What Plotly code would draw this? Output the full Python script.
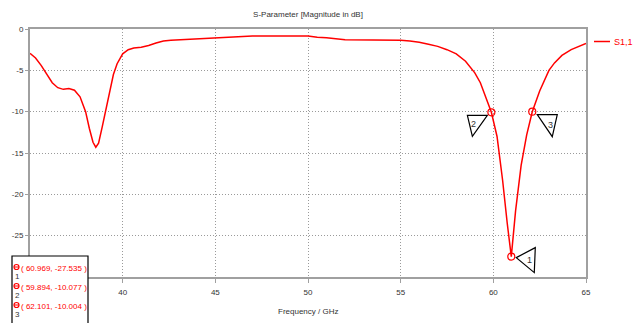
import plotly.graph_objects as go

# ---------------- data ----------------
freq = [35.0, 35.3, 35.6, 35.9, 36.2, 36.5, 36.8, 37.1, 37.4, 37.7, 38.0, 38.2, 38.4, 38.55,
        38.7, 38.9, 39.1, 39.3, 39.5, 39.7, 40.0, 40.3, 40.6, 41.0, 41.4, 41.8, 42.2, 42.6,
        43.0, 43.5, 44.0, 44.5, 45.0, 46.0, 47.0, 48.0, 49.0, 50.0, 50.5, 51.0, 52.0, 53.0,
        54.0, 55.0, 55.5, 56.0, 56.5, 57.0, 57.5, 58.0, 58.5, 59.0, 59.3, 59.6, 59.894, 60.2,
        60.5, 60.75, 60.969, 61.2, 61.5, 61.8, 62.101, 62.5, 63.0, 63.3, 63.7, 64.2, 64.6, 65.0]
s11 = [-2.95, -3.5, -4.4, -5.5, -6.5, -7.1, -7.3, -7.2, -7.4, -8.2, -10.0, -12.0, -13.7, -14.3,
       -13.8, -11.8, -9.6, -7.3, -5.5, -4.2, -3.0, -2.5, -2.3, -2.2, -2.0, -1.7, -1.45, -1.35,
       -1.3, -1.3, -1.2, -1.1, -1.05, -0.95, -0.85, -0.85, -0.85, -0.85, -1.0, -1.05, -1.3, -1.3,
       -1.3, -1.35, -1.45, -1.6, -1.85, -2.1, -2.5, -3.0, -3.9, -5.3, -6.5, -8.2, -10.077, -13.0,
       -18.3, -23.5, -27.535, -22.0, -16.5, -12.8, -10.004, -7.5, -5.0, -4.1, -3.2, -2.5, -2.1, -1.75]

marker_ids = ["1", "2", "3"]
marker_f = [60.969, 59.894, 62.101]
marker_v = [-27.535, -10.077, -10.004]

x_ticks = [40, 45, 50, 55, 60, 65]
y_ticks = [0, -5, -10, -15, -20, -25]

title_text = "S-Parameter [Magnitude in dB]"
x_title = "Frequency / GHz"
series_name = "S1,1"

# ---------------- layout helpers ----------------
W, H = 636, 323
ML, MR, MT, MB = 30, 50, 29, 46
PW, PH = W - ML - MR, H - MT - MB
FONT = "Liberation Sans, Arial, sans-serif"
FS = 8
RED = "#ff0000"
TXT = "#333333"
GRID = "#9a9a9a"
AXIS = "#a0a0a0"


def px(xw):
    """window x pixel -> paper x"""
    return (xw - ML) / PW


def py(yw):
    """window y pixel -> paper y"""
    return (H - MB - yw) / PH


fig = go.Figure()
fig.add_trace(go.Scatter(x=freq, y=s11, mode="lines", name=series_name,
                         line=dict(color=RED, width=1.5), showlegend=False))
fig.add_trace(go.Scatter(x=marker_f, y=marker_v, mode="markers", showlegend=False,
                         marker=dict(symbol="circle-open", size=7, color=RED,
                                     line=dict(width=1.2, color=RED))))

shapes = []
annotations = []

# triangle marker flags (pixel offsets relative to the marker point, +y up)
tri = {
    "1": ([(5, -1), (24, 9), (23, -16)], (18, -3)),
    "2": ([(-24, -3), (-4, -3), (-19, -24)], (-18, -12)),
    "3": ([(5, -3), (25, -3), (20, -25)], (18, -13)),
}
for mid, f, v in zip(marker_ids, marker_f, marker_v):
    pts, lab = tri[mid]
    path = "M " + " L ".join(f"{a},{b}" for a, b in pts) + " Z"
    shapes.append(dict(type="path", xref="x", yref="y", xsizemode="pixel", ysizemode="pixel",
                       xanchor=f, yanchor=v, path=path, fillcolor="white",
                       line=dict(color="black", width=1.2), layer="above"))
    annotations.append(dict(x=f, y=v, xref="x", yref="y", text=mid, showarrow=False,
                            xanchor="center", yanchor="middle",
                            xshift=lab[0], yshift=lab[1],
                            font=dict(family=FONT, size=FS + 1, color=TXT)))

# marker readout box (bottom-left)
shapes.append(dict(type="rect", xref="paper", yref="paper", x0=px(12), x1=px(88),
                   y0=py(330), y1=py(256), fillcolor="white",
                   line=dict(color="black", width=1.2), layer="above"))
rows_y = [268, 287, 306]
for mid, f, v, yc in zip(marker_ids, marker_f, marker_v, rows_y):
    shapes.append(dict(type="circle", xref="paper", yref="paper", xsizemode="pixel",
                       ysizemode="pixel", xanchor=px(16.5), yanchor=py(yc - 1),
                       x0=-2.5, x1=2.5, y0=-2.5, y1=2.5,
                       line=dict(color=RED, width=1.2), layer="above"))
    shapes.append(dict(type="line", xref="paper", yref="paper", x0=px(14), x1=px(19),
                       y0=py(yc - 1), y1=py(yc - 1),
                       line=dict(color=RED, width=1), layer="above"))
    annotations.append(dict(x=px(17), y=py(yc + 8), xref="paper", yref="paper", text=mid,
                            showarrow=False, xanchor="center", yanchor="middle",
                            font=dict(family=FONT, size=FS, color=TXT)))
    annotations.append(dict(x=px(54), y=py(yc), xref="paper", yref="paper",
                            text=f"( {f:.3f}, {v:.3f} )", showarrow=False,
                            xanchor="center", yanchor="middle",
                            font=dict(family=FONT, size=FS, color=RED)))

# legend (custom)
shapes.append(dict(type="line", xref="paper", yref="paper", x0=px(594), x1=px(610),
                   y0=py(41.5), y1=py(41.5), line=dict(color=RED, width=1.5)))
annotations.append(dict(x=px(612), y=py(41.5), xref="paper", yref="paper", text=series_name,
                        showarrow=False, xanchor="left", yanchor="middle",
                        font=dict(family=FONT, size=FS + 1, color=RED)))

# x-axis title
annotations.append(dict(x=0.5, y=py(311.5), xref="paper", yref="paper", text=x_title,
                        showarrow=False, xanchor="center", yanchor="middle",
                        font=dict(family=FONT, size=FS, color=TXT)))

fig.update_layout(
    width=W, height=H,
    margin=dict(l=ML, r=MR, t=MT, b=MB, pad=0),
    paper_bgcolor="white", plot_bgcolor="white",
    font=dict(family=FONT, size=FS, color=TXT),
    title=dict(text=title_text, x=0.5, xref="paper", xanchor="center",
               y=1 - 14 / H, yref="container", yanchor="middle",
               font=dict(family=FONT, size=FS, color=TXT)),
    shapes=shapes, annotations=annotations,
    xaxis=dict(range=[35, 65], tickvals=x_ticks, ticktext=[str(t) for t in x_ticks],
               showgrid=True, gridcolor=GRID, griddash="1px,2px", gridwidth=1,
               showline=True, linecolor=AXIS, linewidth=2, mirror=True,
               ticks="outside", ticklen=4, tickcolor=AXIS, zeroline=False,
               ticklabelstandoff=2,
               tickfont=dict(family=FONT, size=FS, color=TXT)),
    yaxis=dict(range=[-30, 0], tickvals=y_ticks, ticktext=[str(t) for t in y_ticks],
               showgrid=True, gridcolor=GRID, griddash="1px,2px", gridwidth=1,
               showline=True, linecolor=AXIS, linewidth=2, mirror=True,
               ticks="outside", ticklen=3, tickcolor=AXIS, zeroline=False,
               tickfont=dict(family=FONT, size=FS, color=TXT)),
)

# remove the browser's default page margin so the figure sits at the window origin
fig.write_html("out.html", config={"displayModeBar": False},
               post_script="document.body.style.margin='0';document.body.style.overflow='hidden';")
